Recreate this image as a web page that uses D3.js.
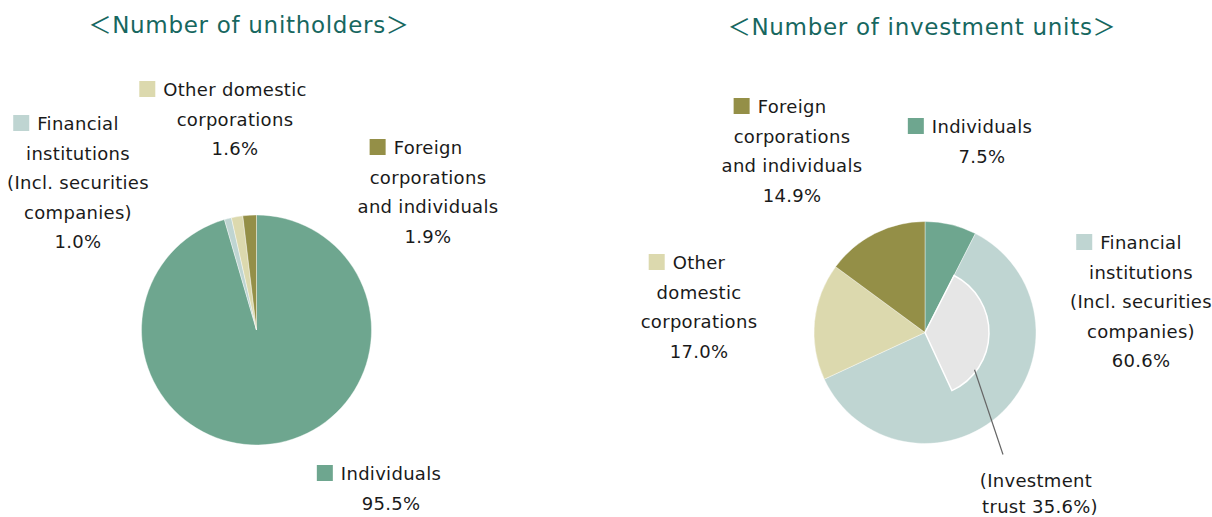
<!DOCTYPE html>
<html>
<head>
<meta charset="utf-8">
<script src="https://cdn.jsdelivr.net/npm/d3@7"></script>
<style>
  body { margin: 0; background: #fff; }
  text { font-family: "DejaVu Sans", Verdana, sans-serif; }
</style>
</head>
<body>
<div id="chart"></div>
<script>
// chart data
const categories = ["Individuals", "Financial institutions", "Other domestic corporations", "Foreign corporations and individuals"];
const unitholderValues = [95.5, 1.0, 1.6, 1.9];
const unitValues = [7.5, 60.6, 17.0, 14.9];
const investmentTrust = 35.6;
const titles = ["Number of unitholders", "Number of investment units"];

// label text, split in lines (first line carries the legend square)
const labelLines = [
  ["Individuals"],
  ["Financial", "institutions", "(Incl. securities", "companies)"],
  ["Other domestic", "corporations"],
  ["Foreign", "corporations", "and individuals"]
];
const labelLinesRight = [
  ["Individuals"],
  ["Financial", "institutions", "(Incl. securities", "companies)"],
  ["Other", "domestic", "corporations"],
  ["Foreign", "corporations", "and individuals"]
];

const colors = ["#6ea68f", "#bfd5d2", "#dcd9ae", "#948f47"];
const width = 1212, height = 517;
const lineH = 29.5;

const svg = d3.select("#chart").append("svg")
  .attr("width", width)
  .attr("height", height);

// layout of each pie and its labels
const pies = [
  { cx: 256.5, cy: 330, r: 115, values: unitholderValues, lines: labelLines, titleX: 249, titleY: 33,
    labels: [ { x: 391, y: 480 }, { x: 78, y: 130 }, { x: 235, y: 96 }, { x: 428, y: 154 } ] },
  { cx: 925, cy: 332.5, r: 111, values: unitValues, lines: labelLinesRight, titleX: 922, titleY: 35,
    labels: [ { x: 982, y: 133 }, { x: 1141, y: 249 }, { x: 699, y: 269 }, { x: 792, y: 113 } ] }
];

const pie = d3.pie().sort(null).value(d => d);

pies.forEach(function (p, pi) {
  let g = svg.append("g").attr("transform", "translate(" + p.cx + "," + p.cy + ")");
  let arc = d3.arc().innerRadius(0).outerRadius(p.r);

  let arcs = pie(p.values);
  g.selectAll("path.slice")
    .data(arcs)
    .enter().append("path")
      .attr("class", "slice")
      .attr("d", arc)
      .attr("fill", (d, i) => colors[i])
      .attr("stroke", "#ffffff")
      .attr("stroke-width", 0.4);

  // title, with full-width brackets
  let title = svg.append("text")
    .attr("x", p.titleX)
    .attr("y", p.titleY)
    .attr("text-anchor", "middle")
    .style("font-size", "23px")
    .style("letter-spacing", "0.7px")
    .style("fill", "#17675f");
  title.append("tspan").style("font-family", "'Noto Sans CJK JP'").text("＜");
  title.append("tspan").text(titles[pi]);
  title.append("tspan").style("font-family", "'Noto Sans CJK JP'").text("＞");

  // labels
  p.labels.forEach(function (pos, i) {
    let lines = p.lines[i].concat([d3.format(".1f")(p.values[i]) + "%"]);
    let lg = svg.append("g");
    lines.forEach(function (ln, k) {
      let t = lg.append("text")
        .attr("x", pos.x)
        .attr("y", pos.y + k * lineH)
        .attr("text-anchor", k === 0 && lines.length === 2 && i === 0 ? "start" : "middle")
        .style("font-size", "18px")
        .style("letter-spacing", "0.3px")
        .style("fill", "#1a1a1a")
        .text(ln);
      if (k === 0) {
        let bb = t.node().getBBox();
        if (lines.length === 2 && i === 0) {
          // single-line label: the value is centred on the name
          t.attr("x", pos.x - bb.width / 2);
          bb = t.node().getBBox();
        }
        lg.append("rect")
          .attr("x", bb.x - 24)
          .attr("y", pos.y - 15)
          .attr("width", 16)
          .attr("height", 16)
          .attr("fill", colors[i]);
      }
    });
  });

  // inner investment trust segment
  if (pi === 1) {
    let start = arcs[1].startAngle;
    let inner = d3.arc().innerRadius(0).outerRadius(64)
      .startAngle(start)
      .endAngle(start + investmentTrust / 100 * 2 * Math.PI);
    g.append("path")
      .attr("d", inner())
      .attr("fill", "#e6e6e6")
      .attr("stroke", "#ffffff")
      .attr("stroke-width", 1.5);

    // leader line to the note
    let mid = start + investmentTrust / 100 * 2 * Math.PI * 0.78;
    let r0 = 62;
    g.append("line")
      .attr("x1", r0 * Math.sin(mid))
      .attr("y1", -r0 * Math.cos(mid))
      .attr("x2", 78)
      .attr("y2", 122)
      .attr("stroke", "#666")
      .attr("stroke-width", 1.2);

    svg.append("text")
      .attr("x", 1036).attr("y", 487)
      .attr("text-anchor", "middle")
      .style("font-size", "18px").style("letter-spacing", "0.3px").style("fill", "#1a1a1a")
      .text("(Investment");
    svg.append("text")
      .attr("x", 1040).attr("y", 513)
      .attr("text-anchor", "middle")
      .style("font-size", "18px").style("letter-spacing", "0.3px").style("fill", "#1a1a1a")
      .text("trust " + d3.format(".1f")(investmentTrust) + "%)");
  }
});
</script>
</body>
</html>
